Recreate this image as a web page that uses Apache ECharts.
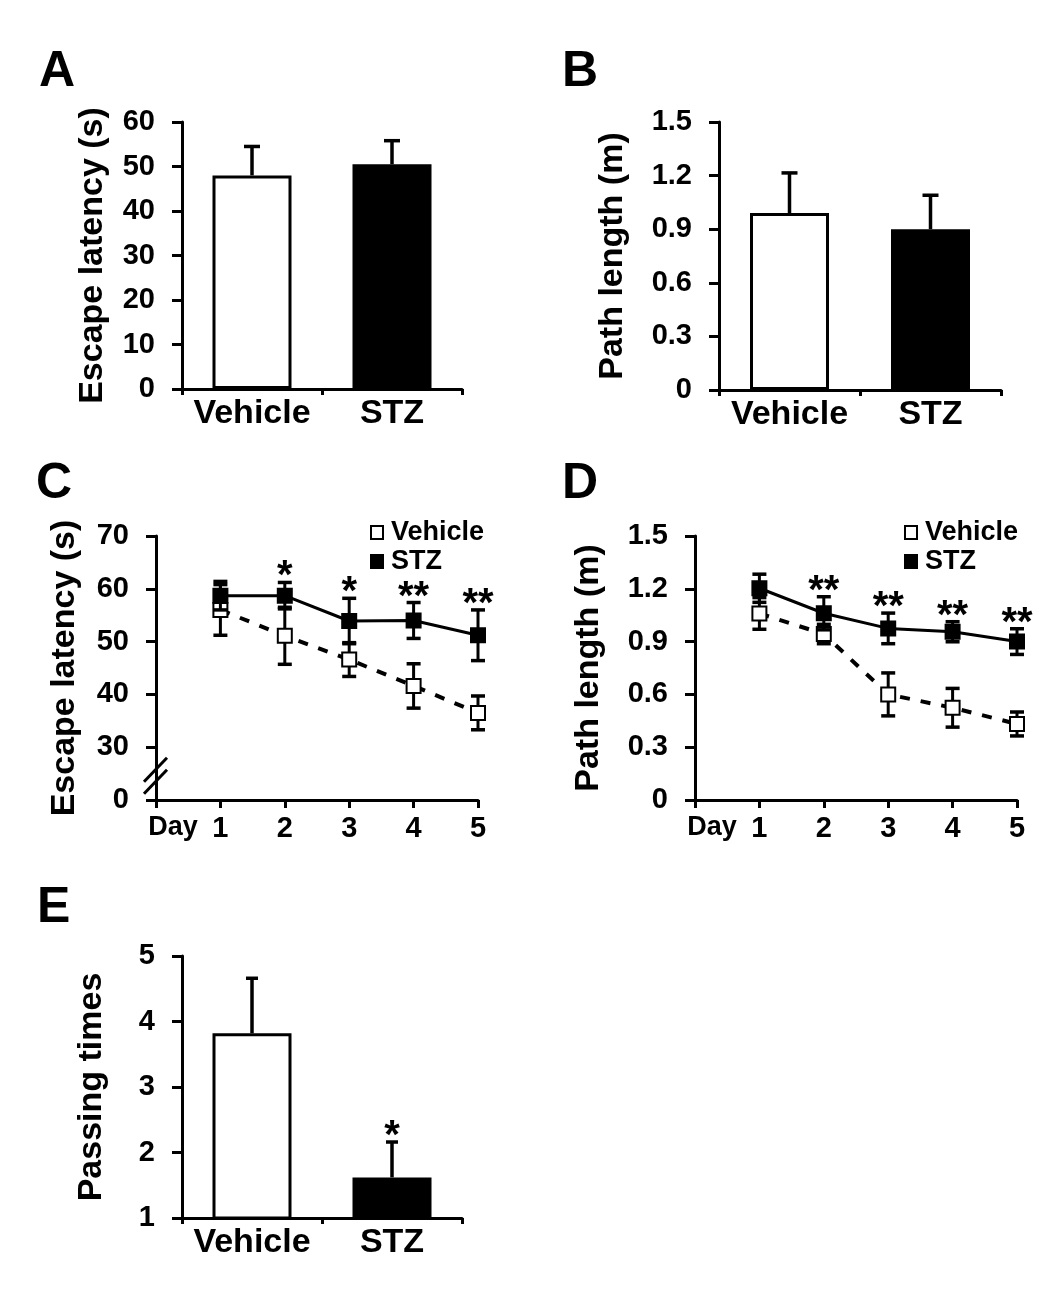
<!DOCTYPE html>
<html>
<head>
<meta charset="utf-8">
<script src="https://cdn.jsdelivr.net/npm/echarts@6/dist/echarts.min.js"></script>
<style>
html,body{margin:0;padding:0;background:#fff;}
#chart{width:1050px;height:1300px;}
</style>
</head>
<body>
<div id="chart"></div>
<script>
// ---------------- DATA ----------------
const barCategories = ['Vehicle', 'STZ'];
// Panel A: escape latency (s), mean and SEM
const latencyMeans = [48.0, 50.5];
const latencySEM = [6.5, 5.3];
// Panel B: path length (m)
const pathMeans = [0.99, 0.90];
const pathSEM = [0.225, 0.19];
// Panel E: passing times
const passingMeans = [3.82, 1.62];
const passingSEM = [0.84, 0.54];
const passingSig = ['', '*'];

// Panels C/D: training days
const days = [1, 2, 3, 4, 5];
const latVehicle = [56.0, 51.1, 46.6, 41.6, 36.5];
const latVehicleSEM = [4.8, 5.4, 3.2, 4.2, 3.2];
const latSTZ = [58.7, 58.7, 53.9, 54.0, 51.2];
const latSTZSEM = [2.7, 2.5, 4.3, 3.4, 4.8];
const latSig = ['', '*', '*', '**', '**'];

const pathVehicle = [1.06, 0.943, 0.60, 0.524, 0.432];
const pathVehicleSEM = [0.09, 0.055, 0.122, 0.11, 0.068];
const pathSTZ = [1.203, 1.061, 0.975, 0.956, 0.90];
const pathSTZSEM = [0.08, 0.094, 0.087, 0.057, 0.073];
const pathSig = ['', '**', '**', '**', '**'];

// tick settings
const latencyTicks = {min: 0, max: 60, interval: 10};
const pathTicks = {min: 0, max: 1.5, interval: 0.3};
const latDayTicks = {min: 20, max: 70, interval: 10}; // lowest tick shown as "0" (broken axis)
const passingTicks = {min: 1, max: 5, interval: 1};

// ---------------- STYLE ----------------
const FF = "'Liberation Sans', Arial, Helvetica, sans-serif";
const BLACK = '#000';
const groupStyle = {
  Vehicle: {color: '#fff', borderColor: BLACK, borderWidth: 3},
  STZ: {color: BLACK, borderColor: BLACK, borderWidth: 3}
};

const chart = echarts.init(document.getElementById('chart'), null, {renderer: 'canvas'});

const grids = [
  {left: 182, top: 122, width: 280, height: 267},
  {left: 719, top: 122, width: 282, height: 268},
  {left: 156, top: 536, width: 322, height: 264},
  {left: 695, top: 536, width: 322, height: 264},
  {left: 182, top: 956, width: 280, height: 262}
];

function yAxisBase(gridIndex, ticks, name, nameGap, fmt) {
  return {
    type: 'value', gridIndex, min: ticks.min, max: ticks.max, interval: ticks.interval,
    name, nameLocation: 'middle', nameGap, nameRotate: 90,
    nameTextStyle: {fontFamily: FF, fontWeight: 'bold', fontSize: 34, color: BLACK},
    axisLine: {show: true, lineStyle: {color: BLACK, width: 3}},
    axisTick: {show: true, length: 10, lineStyle: {color: BLACK, width: 3}},
    splitLine: {show: false},
    axisLabel: {color: BLACK, fontFamily: FF, fontWeight: 'bold', fontSize: 29, margin: 27,
      formatter: fmt || (v => String(v))}
  };
}
function catAxis(gridIndex) {
  return {
    type: 'category', gridIndex, data: barCategories, boundaryGap: true,
    axisLine: {show: true, lineStyle: {color: BLACK, width: 3}},
    axisTick: {show: true, length: 6, lineStyle: {color: BLACK, width: 3}},
    axisLabel: {color: BLACK, fontFamily: FF, fontWeight: 'bold', fontSize: 34, margin: 8, interval: 0}
  };
}
function dayAxis(gridIndex) {
  return {
    type: 'value', gridIndex, min: 0, max: 5, interval: 1,
    axisLine: {show: true, onZero: false, lineStyle: {color: BLACK, width: 3}},
    axisTick: {show: true, inside: false, length: 8, lineStyle: {color: BLACK, width: 3}},
    splitLine: {show: false},
    axisLabel: {color: BLACK, fontFamily: FF, fontWeight: 'bold', fontSize: 29, margin: 14,
      formatter: v => v === 0 ? '{d|Day}' : String(v),
      rich: {d: {fontFamily: FF, fontWeight: 'bold', fontSize: 27, color: BLACK, padding: [0, 0, 0, 34]}}
    }
  };
}

function barSeries(xi, yi, means) {
  return {
    type: 'bar', xAxisIndex: xi, yAxisIndex: yi, barWidth: 79, z: 2,
    data: means.map((m, i) => ({value: m, itemStyle: groupStyle[barCategories[i]]}))
  };
}
function barErrSeries(xi, yi, means, sems, capHalf) {
  return {
    type: 'custom', xAxisIndex: xi, yAxisIndex: yi, z: 3, silent: true,
    data: means.map((m, i) => [i, m, sems[i]]),
    renderItem: (params, api) => {
      const x = api.value(0), m = api.value(1), e = api.value(2);
      const b = api.coord([x, m]);
      const t = api.coord([x, m + e]);
      return {type: 'group', children: [
        {type: 'line', shape: {x1: b[0], y1: b[1], x2: t[0], y2: t[1]}, style: {stroke: BLACK, lineWidth: 3.5}},
        {type: 'line', shape: {x1: t[0] - capHalf, y1: t[1], x2: t[0] + capHalf, y2: t[1]}, style: {stroke: BLACK, lineWidth: 3.5}}
      ]};
    }
  };
}
function sigSeries(xi, yi, xs, means, sems, sig) {
  return {
    type: 'custom', xAxisIndex: xi, yAxisIndex: yi, z: 6, silent: true,
    data: means.map((m, i) => [xs[i], m + sems[i], i]),
    renderItem: (params, api) => {
      const idx = api.value(2);
      const p = api.coord([api.value(0), api.value(1)]);
      return {type: 'text', x: p[0], y: p[1] - 5,
        style: {text: sig[idx], font: 'bold 40px ' + FF, fill: BLACK, align: 'center', verticalAlign: 'middle'}};
    }
  };
}
function lineErrSeries(xi, yi, means, sems, z) {
  return {
    type: 'custom', xAxisIndex: xi, yAxisIndex: yi, z, silent: true,
    data: means.map((m, i) => [days[i], m, sems[i]]),
    renderItem: (params, api) => {
      const x = api.value(0), m = api.value(1), e = api.value(2);
      const t = api.coord([x, m + e]);
      const b = api.coord([x, m - e]);
      const cap = 7;
      return {type: 'group', children: [
        {type: 'line', shape: {x1: t[0], y1: t[1], x2: b[0], y2: b[1]}, style: {stroke: BLACK, lineWidth: 3}},
        {type: 'line', shape: {x1: t[0] - cap, y1: t[1], x2: t[0] + cap, y2: t[1]}, style: {stroke: BLACK, lineWidth: 3.5}},
        {type: 'line', shape: {x1: b[0] - cap, y1: b[1], x2: b[0] + cap, y2: b[1]}, style: {stroke: BLACK, lineWidth: 3.5}}
      ]};
    }
  };
}
function lineSeries(name, xi, yi, means, z) {
  const vehicle = name === 'Vehicle';
  return {
    type: 'line', name, xAxisIndex: xi, yAxisIndex: yi, z,
    data: means.map((m, i) => [days[i], m]),
    symbol: 'rect', symbolSize: 14,
    itemStyle: {color: vehicle ? '#fff' : BLACK, borderColor: BLACK, borderWidth: 2, opacity: 1},
    lineStyle: vehicle ? {color: BLACK, width: 4, type: [10, 11]} : {color: BLACK, width: 3, type: 'solid'},
    emphasis: {disabled: true}, animation: false
  };
}

const legendItems = [
  {name: 'Vehicle', icon: 'rect', itemStyle: {color: '#fff', borderColor: BLACK, borderWidth: 2}},
  {name: 'STZ', icon: 'rect', itemStyle: {color: BLACK, borderColor: BLACK, borderWidth: 2}}
];
function legendAt(left, top) {
  return {
    left, top, orient: 'vertical', itemWidth: 12, itemHeight: 13, itemGap: 2, selectedMode: false,
    data: legendItems,
    textStyle: {fontFamily: FF, fontWeight: 'bold', fontSize: 27, color: BLACK, padding: [0, 0, 0, 3]}
  };
}

const letter = (t, left, top) => ({text: t, left, top, padding: 0,
  textStyle: {fontFamily: FF, fontWeight: 'bold', fontSize: 50, color: BLACK}});

const option = {
  animation: false,
  backgroundColor: '#fff',
  title: [letter('A', 39, 47), letter('B', 562, 47), letter('C', 36, 459), letter('D', 562, 459), letter('E', 37, 883)],
  legend: [legendAt(365, 514), legendAt(899, 514)],
  grid: grids,
  xAxis: [catAxis(0), catAxis(1), dayAxis(2), dayAxis(3), catAxis(4)],
  yAxis: [
    yAxisBase(0, latencyTicks, 'Escape latency (s)', 72),
    yAxisBase(1, pathTicks, 'Path length (m)', 89, v => v === 0 ? '0' : v.toFixed(1)),
    yAxisBase(2, latDayTicks, 'Escape latency (s)', 74, v => v === latDayTicks.min ? '0' : String(v)),
    yAxisBase(3, pathTicks, 'Path length (m)', 89, v => v === 0 ? '0' : v.toFixed(1)),
    yAxisBase(4, passingTicks, 'Passing times', 73)
  ],
  series: [
    barSeries(0, 0, latencyMeans),
    barErrSeries(0, 0, latencyMeans, latencySEM, 8),
    barSeries(1, 1, pathMeans),
    barErrSeries(1, 1, pathMeans, pathSEM, 8),
    barSeries(4, 4, passingMeans),
    barErrSeries(4, 4, passingMeans, passingSEM, 6),
    sigSeries(4, 4, [0, 1], passingMeans, passingSEM, passingSig),

    lineErrSeries(2, 2, latVehicle, latVehicleSEM, 2),
    lineSeries('Vehicle', 2, 2, latVehicle, 3),
    lineErrSeries(2, 2, latSTZ, latSTZSEM, 4),
    lineSeries('STZ', 2, 2, latSTZ, 5),
    sigSeries(2, 2, days, latSTZ, latSTZSEM, latSig),

    lineErrSeries(3, 3, pathVehicle, pathVehicleSEM, 2),
    lineSeries('Vehicle', 3, 3, pathVehicle, 3),
    lineErrSeries(3, 3, pathSTZ, pathSTZSEM, 4),
    lineSeries('STZ', 3, 3, pathSTZ, 5),
    sigSeries(3, 3, days, pathSTZ, pathSTZSEM, pathSig)
  ]
};
chart.setOption(option);

// axis-break marks on panel C's y axis, placed from the axis scale
const breakVal = latDayTicks.min + 4.6;
const bp = chart.convertToPixel({gridIndex: 2}, [0, breakVal]);
const slash = (dy) => ({
  type: 'line', z: 50,
  shape: {x1: bp[0] - 12, y1: bp[1] + dy + 12, x2: bp[0] + 11, y2: bp[1] + dy - 12},
  style: {stroke: BLACK, lineWidth: 3}
});
chart.setOption({graphic: [slash(-6), slash(6)]});
</script>
</body>
</html>
